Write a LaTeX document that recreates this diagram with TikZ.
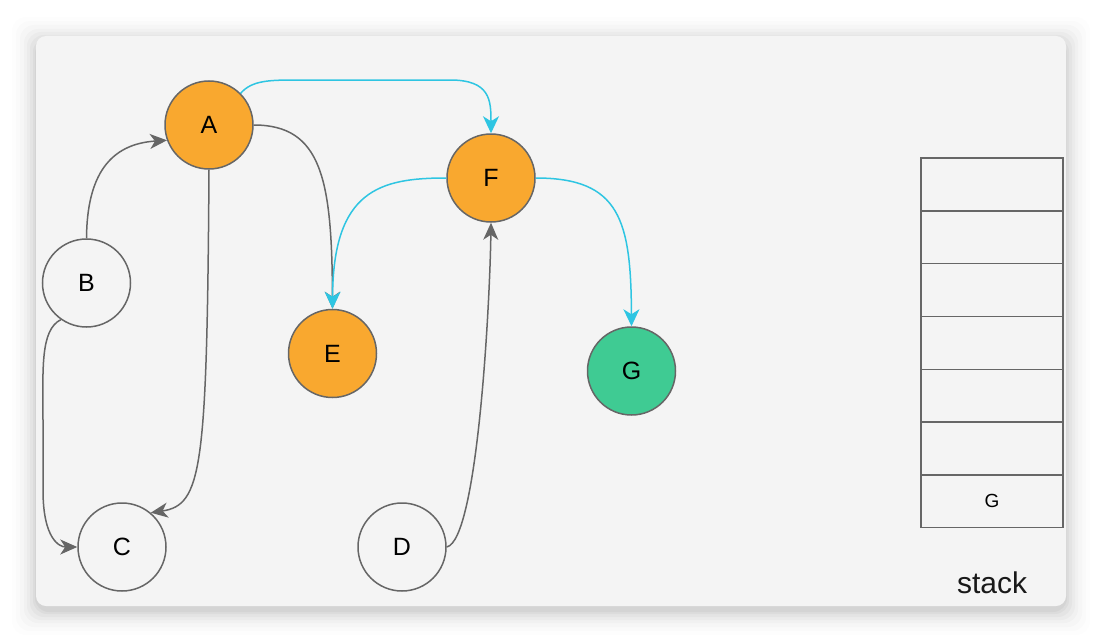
\documentclass[tikz,border=0pt]{standalone}
\usepackage{fontspec}
\setmainfont{Liberation Sans}
\usetikzlibrary{arrows.meta}
\definecolor{panel}{HTML}{F4F4F4}
\definecolor{orng}{HTML}{F9A82F}
\definecolor{grn}{HTML}{3FCB93}
\definecolor{edgegray}{HTML}{666666}
\definecolor{cyanline}{HTML}{2EC5E2}
\tikzset{
  vert/.style={circle, draw=edgegray, line width=1.5pt, minimum size=88pt, inner sep=0pt, font=\fontsize{25}{25}\selectfont},
  gline/.style={draw=edgegray, line width=1.5pt, -{Stealth[length=17pt,width=15pt,inset=5pt]}},
  cline/.style={draw=cyanline, line width=1.5pt, -{Stealth[length=17pt,width=16pt,inset=5pt]}},
  cell/.style={draw=edgegray, line width=1.4pt, minimum width=142pt, minimum height=52.8pt, inner sep=0pt, outer sep=0pt, font=\fontsize{19}{19}\selectfont}
}
\begin{document}
\begin{tikzpicture}[x=1pt,y=-1pt]
\useasboundingbox (0,0) rectangle (1102,642);
\fill[white] (0,0) rectangle (1102,642);
% soft shadow
\foreach \d/\o in {24/0.008,20/0.01,16/0.014,12/0.018,9/0.022,6/0.026,3/0.03,1/0.035}{
  \fill[black, opacity=\o, rounded corners=14pt] (36-\d,36-\d+5) rectangle (1066+\d,606+\d+5);
}
\fill[panel, rounded corners=10pt] (36,36) rectangle (1066,606);

% nodes
\node[vert, fill=orng] (A) at (209,125) {A};
\node[vert, fill=orng] (F) at (491,178) {F};
\node[vert, fill=panel] (B) at (86.5,283) {B};
\node[vert, fill=panel] (C) at (122,547) {C};
\node[vert, fill=panel] (D) at (402,547) {D};
\node[vert, fill=orng] (E) at (332.5,353.5) {E};
\node[vert, fill=grn] (G) at (631.5,371) {G};

% gray edges
\draw[gline] (B.north) .. controls (87,175) and (110,144) .. (A.-160);
\draw[gline] (A.south) .. controls (207,470) and (202,505) .. (C.50);
\draw[gline] (B.-125) .. controls (40,330) and (43,370) .. (43,420) -- (43,490) .. controls (43,540) and (60,547) .. (C.west);
\draw[gline] (A.east) .. controls (322,125) and (332,180) .. (E.north);
\draw[gline] (D.east) .. controls (478,540) and (490,300) .. (F.south);

% cyan edges
\draw[cline] (A.45) .. controls (252,80) and (270,80) .. (300,80) -- (450,80) .. controls (490,80) and (491,100) .. (F.north);
\draw[cline] (F.west) .. controls (380,178) and (333,190) .. (E.north);
\draw[cline] (F.east) .. controls (620,178) and (631,220) .. (G.north);

% stack
\node[cell] (s1) at (992,184.4) {};
\node[cell] (s2) at (992,237.2) {};
\node[cell] (s3) at (992,290) {};
\node[cell] (s4) at (992,342.8) {};
\node[cell] (s5) at (992,395.6) {};
\node[cell] (s6) at (992,448.4) {};
\node[cell] (s7) at (992,501.2) {G};
\node[font=\fontsize{30}{30}\selectfont, text=black!90] (lbl) at (992,583) {stack};
\end{tikzpicture}
\end{document}
